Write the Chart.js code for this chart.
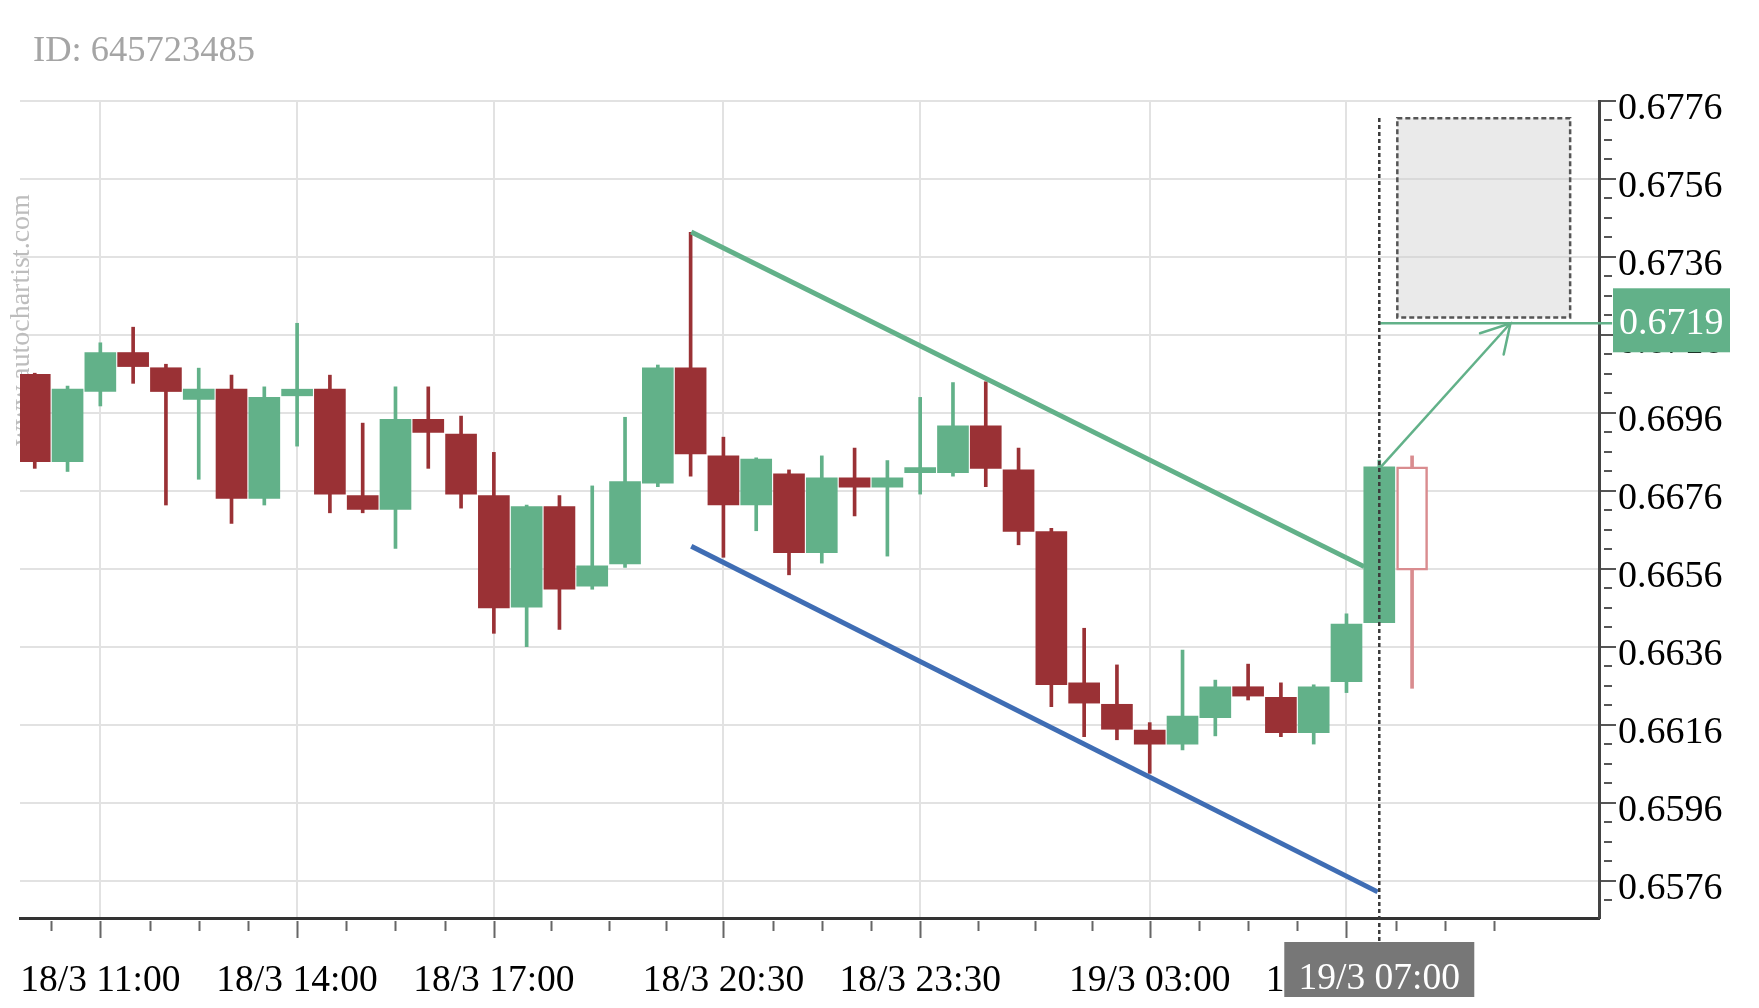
<!DOCTYPE html>
<html><head><meta charset="utf-8">
<script src="https://cdn.jsdelivr.net/npm/chart.js@4.4.1/dist/chart.umd.min.js"></script>
<style>html,body{margin:0;padding:0;background:#fff;overflow:hidden}#wrap{width:1759px;height:1008px;position:relative}</style>
</head><body><div id="wrap"><canvas id="c" width="1759" height="1008"></canvas></div>
<script>
// ---- data ----
const times = ['18/3 10:00','18/3 10:30','18/3 11:00','18/3 11:30','18/3 12:00','18/3 12:30','18/3 13:00','18/3 13:30',
 '18/3 14:00','18/3 14:30','18/3 15:00','18/3 15:30','18/3 16:00','18/3 16:30','18/3 17:00','18/3 17:30','18/3 18:00',
 '18/3 18:30','18/3 19:00','18/3 19:30','18/3 20:00','18/3 20:30','18/3 21:00','18/3 21:30','18/3 22:00','18/3 22:30',
 '18/3 23:00','18/3 23:30','19/3 00:00','19/3 00:30','19/3 01:00','19/3 01:30','19/3 02:00','19/3 02:30','19/3 03:00',
 '19/3 03:30','19/3 04:00','19/3 04:30','19/3 05:00','19/3 05:30','19/3 06:00','19/3 06:30','19/3 07:00'];
const opens  = [0.67059,0.66835,0.67015,0.67115,0.67076,0.66995,0.67021,0.66741,0.67004,0.67021,0.66748,0.66713,0.66944,0.66906,
 0.66748,0.66462,0.66720,0.66516,0.66573,0.66780,0.67076,0.66850,0.66724,0.66804,0.66602,0.66794,0.66770,0.66807,0.66807,
 0.66927,0.66814,0.66656,0.66268,0.66213,0.66147,0.66111,0.66179,0.66258,0.66231,0.66140,0.66271,0.66422,0.66822];
const highs  = [0.67062,0.67029,0.67140,0.67180,0.67085,0.67075,0.67057,0.67027,0.67190,0.67057,0.66934,0.67027,0.67027,0.66952,
 0.66859,0.66724,0.66748,0.66773,0.66949,0.67083,0.67423,0.66898,0.66845,0.66814,0.66850,0.66870,0.66838,0.67000,0.67038,
 0.67040,0.66870,0.66664,0.66408,0.66314,0.66166,0.66352,0.66275,0.66316,0.66268,0.66263,0.66445,0.66839,0.66850];
const lows   = [0.66818,0.66810,0.66978,0.67036,0.66724,0.66790,0.66677,0.66724,0.66875,0.66704,0.66704,0.66613,0.66818,0.66716,
 0.66395,0.66361,0.66405,0.66508,0.66564,0.66771,0.66798,0.66590,0.66658,0.66545,0.66575,0.66696,0.66593,0.66752,0.66798,
 0.66771,0.66622,0.66207,0.66130,0.66122,0.66036,0.66096,0.66132,0.66224,0.66130,0.66111,0.66243,0.66422,0.66254];
const closes = [0.66835,0.67021,0.67115,0.67079,0.67015,0.67021,0.66741,0.67000,0.67021,0.66752,0.66713,0.66944,0.66910,0.66752,
 0.66460,0.66720,0.66508,0.66568,0.66784,0.67076,0.66855,0.66724,0.66842,0.66602,0.66794,0.66770,0.66794,0.66816,0.66927,
 0.66818,0.66656,0.66263,0.66216,0.66149,0.66111,0.66183,0.66258,0.66234,0.66140,0.66258,0.66419,0.66822,0.66557];
const forecastCandle = 42;          // hollow candle
const xTickIdx    = [2, 8, 14, 21, 27, 34, 40];
const xTickLabels = ['18/3 11:00','18/3 14:00','18/3 17:00','18/3 20:30','18/3 23:30','19/3 03:00','19/3 06:00'];
const xMinorIdx   = [0.5,3.5,5,6.5,9.5,11,12.5,15.75,17.5,19.25,22.5,24,25.5,28.75,30.5,32.25,35.5,37,38.5,41.5,43,44.5];
const yTickVals   = [0.6576,0.6596,0.6616,0.6636,0.6656,0.6676,0.6696,0.6716,0.6736,0.6756,0.6776];
const resistance  = [{x:20.02, y:0.67424},{x:40.54, y:0.66566}];
const support     = [{x:20.02, y:0.66618},{x:40.95, y:0.65732}];
const arrowPts    = [{x:41.05, y:0.66822},{x:45.0, y:0.6719}];
const targetValue = 0.6719;
const targetLine  = [{x:41, y:targetValue},{x:48.1, y:targetValue}];
const targetBox   = {x0:41.55, x1:46.82, y0:0.67205, y1:0.67716};
const nowIdx = 41, nowLabel = '19/3 07:00';
const idText = 'ID: 645723485';
const watermark = 'www.autochartist.com';

const GREEN = '#62b189', RED = '#9a3135', BLUE = '#3f6db4', PINK = '#d98c8f';
const FONT = '"Liberation Serif", "DejaVu Serif", serif';
const idx = opens.map((_, i) => i);
const isUp = i => closes[i] >= opens[i];

const overlay = {
  id: 'overlay',
  beforeDatasetsDraw(chart) {
    const {ctx, scales:{x, y}} = chart;
    ctx.save();
    ctx.translate(22, 320); ctx.rotate(-Math.PI/2);
    ctx.fillStyle = '#bdbdbd'; ctx.font = '28px ' + FONT;
    ctx.textAlign = 'center'; ctx.textBaseline = 'middle';
    ctx.fillText(watermark, 0, 0);
    ctx.restore();
    ctx.save();
    const rx0 = x.getPixelForValue(targetBox.x0), rx1 = x.getPixelForValue(targetBox.x1);
    const ry0 = y.getPixelForValue(targetBox.y1), ry1 = y.getPixelForValue(targetBox.y0);
    ctx.fillStyle = 'rgba(205,205,205,0.42)';
    ctx.fillRect(rx0, ry0, rx1 - rx0, ry1 - ry0);
    ctx.setLineDash([5, 3]); ctx.strokeStyle = '#555'; ctx.lineWidth = 2.5;
    ctx.strokeRect(rx0, ry0, rx1 - rx0, ry1 - ry0);
    ctx.restore();
  },
  afterDatasetsDraw(chart) {
    const {ctx, chartArea:ca, scales:{x, y}} = chart;
    ctx.save();
    const nx = x.getPixelForValue(nowIdx);
    ctx.setLineDash([4, 3]); ctx.strokeStyle = '#3a3a3a'; ctx.lineWidth = 2.5;
    ctx.beginPath(); ctx.moveTo(nx, 118); ctx.lineTo(nx, ca.bottom + 24); ctx.stroke();
    ctx.setLineDash([]);
    const tx = x.getPixelForValue(arrowPts[1].x), ty = y.getPixelForValue(arrowPts[1].y);
    const sx = x.getPixelForValue(arrowPts[0].x), sy = y.getPixelForValue(arrowPts[0].y);
    const ang = Math.atan2(sy - ty, sx - tx);
    ctx.strokeStyle = GREEN; ctx.lineWidth = 2.5; ctx.lineCap = 'round';
    ctx.beginPath();
    ctx.moveTo(tx + 32*Math.cos(ang + 0.52), ty + 32*Math.sin(ang + 0.52));
    ctx.lineTo(tx, ty);
    ctx.lineTo(tx + 32*Math.cos(ang - 0.52), ty + 32*Math.sin(ang - 0.52));
    ctx.stroke();
    ctx.lineCap = 'butt';
    ctx.strokeStyle = '#666'; ctx.lineWidth = 2;
    ctx.beginPath();
    xMinorIdx.forEach(v => { const p = Math.round(x.getPixelForValue(v)) + 0.5; ctx.moveTo(p, ca.bottom + 3); ctx.lineTo(p, ca.bottom + 13); });
    xTickIdx.forEach(v => { const p = Math.round(x.getPixelForValue(v)) + 0.5; ctx.moveTo(p, ca.bottom + 3); ctx.lineTo(p, ca.bottom + 20); });
    ctx.stroke();
    ctx.strokeStyle = '#555';
    ctx.beginPath();
    for (let k = 0; k < yTickVals.length; k++) {
      const v = yTickVals[k];
      const p = Math.round(y.getPixelForValue(v));
      ctx.moveTo(ca.right + 2, p); ctx.lineTo(ca.right + 17, p);
      for (let m = 1; m < 4; m++) {
        const q = Math.round(y.getPixelForValue(v - m * 0.0005));
        if (q <= ca.bottom) { ctx.moveTo(ca.right + 5, q); ctx.lineTo(ca.right + 13, q); }
      }
    }
    ctx.stroke();
    const py = y.getPixelForValue(targetValue);
    ctx.fillStyle = GREEN;
    ctx.fillRect(ca.right + 14, py - 35, 117, 64);
    ctx.fillStyle = '#fff'; ctx.font = '38px ' + FONT; ctx.textAlign = 'left'; ctx.textBaseline = 'middle';
    ctx.fillText(targetValue.toFixed(4), ca.right + 20, py + 1);
    ctx.fillStyle = '#777';
    ctx.fillRect(nx - 95, ca.bottom + 24, 190, 55);
    ctx.fillStyle = '#fff'; ctx.textAlign = 'center'; ctx.font = '37.5px ' + FONT;
    ctx.fillText(nowLabel, nx, ca.bottom + 61);
    ctx.fillStyle = '#a5a5a5'; ctx.textAlign = 'left'; ctx.font = '36.5px ' + FONT;
    ctx.fillText(idText, 33, 51);
    ctx.restore();
  }
};

new Chart(document.getElementById('c'), {
  type: 'bar',
  data: {
    datasets: [
      { type:'line', label:'resistance', data: resistance, borderColor: GREEN, borderWidth: 5, pointRadius: 0, order: 0 },
      { type:'line', label:'support', data: support, borderColor: BLUE, borderWidth: 5, pointRadius: 0, order: 0 },
      { type:'line', label:'target', data: targetLine, borderColor: GREEN, borderWidth: 2.5, pointRadius: 0, clip: false, order: 0 },
      { type:'line', label:'arrow', data: arrowPts, borderColor: GREEN, borderWidth: 2.5, pointRadius: 0, order: 0 },
      { label:'body', data: idx.map(i => ({x: i, y: [opens[i], closes[i]]})), grouped: false, barThickness: 31, minBarLength: 5,
        backgroundColor: c => c.dataIndex === forecastCandle ? '#fff' : (isUp(c.dataIndex) ? GREEN : RED),
        borderColor: c => c.dataIndex === forecastCandle ? PINK : 'rgba(0,0,0,0)',
        borderWidth: c => c.dataIndex === forecastCandle ? 2.5 : 0, borderSkipped: false, order: 1 },
      { label:'wick', data: idx.map(i => ({x: i, y: [lows[i], highs[i]]})), grouped: false, barThickness: 3,
        backgroundColor: c => c.dataIndex === forecastCandle ? PINK : (isUp(c.dataIndex) ? GREEN : RED), order: 2 }
    ]
  },
  options: {
    responsive: false, animation: false, devicePixelRatio: 1,
    layout: { padding: { left: 20, top: 101, right: 0, bottom: 0 } },
    plugins: { legend: { display: false }, tooltip: { enabled: false } },
    scales: {
      x: {
        type: 'linear', min: -0.45, max: 47.7, offset: false,
        afterBuildTicks: s => { s.ticks = xTickIdx.map(v => ({ value: v })); },
        afterFit: s => { s.height = 90; s.paddingLeft = 0; s.paddingRight = 0; },
        ticks: { autoSkip: false, maxRotation: 0, padding: 41, color: '#000', font: { family: FONT, size: 37.5 },
          callback: v => xTickLabels[xTickIdx.indexOf(v)] || '' },
        grid: { color: '#e2e2e2', lineWidth: 2, drawTicks: false, offset: false },
        border: { display: true, color: '#333', width: 3 }
      },
      y: {
        type: 'linear', position: 'right', min: 0.65665, max: 0.6776,
        afterBuildTicks: s => { s.ticks = yTickVals.map(v => ({ value: v })); },
        afterFit: s => { s.width = 160; s.paddingTop = 0; s.paddingBottom = 0; },
        ticks: { padding: 19, labelOffset: 8, color: '#000', font: { family: FONT, size: 38 }, callback: v => v.toFixed(4) },
        grid: { color: '#e2e2e2', lineWidth: 2, drawTicks: false },
        border: { display: true, color: '#444', width: 3 }
      }
    }
  },
  plugins: [overlay]
});
</script></body></html>
